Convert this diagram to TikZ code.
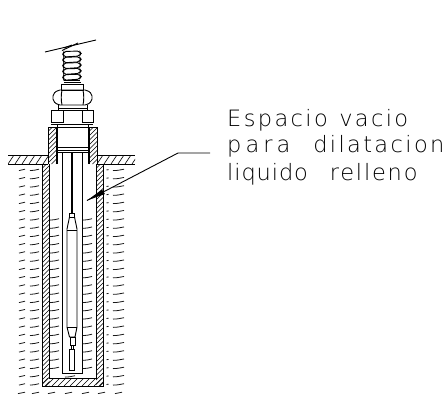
\documentclass[tikz,border=0pt]{standalone}
\usepackage{fontspec}
\newfontfamily\cadN[LetterSpace=10.5]{DejaVu Sans ExtraLight}
\newfontfamily\cadM[LetterSpace=8]{DejaVu Sans ExtraLight}
\newfontfamily\cadT[LetterSpace=4]{DejaVu Sans ExtraLight}
\newfontfamily\cadW[LetterSpace=18]{DejaVu Sans ExtraLight}
\tikzset{x=1pt,y=-1pt,
  ln/.style={line width=0.9pt,black},
  hatchln/.style={line width=0.6pt,black},
  dsh/.style={line width=0.8pt,black!90},
  lbl/.style={anchor=base west,inner sep=0pt}}
\newcommand{\lblsize}{\fontsize{22.5}{24}\selectfont}
\newcommand{\hatchbox}[5]{% x1 y1 x2 y2 spacing
  \begin{scope}
    \clip (#1,#2) rectangle (#3,#4);
    \pgfmathsetmacro{\hstart}{#1-(#4-#2)}
    \pgfmathsetmacro{\hnext}{\hstart+#5}
    \foreach \hx in {\hstart,\hnext,...,#3} {
      \draw[hatchln] (\hx,#4) -- ++(#4-#2,#2-#4);
    }
  \end{scope}}
\newcommand{\groundbox}[2]{% x1 x2
  \begin{scope}
    \clip (#1,155) rectangle (#2,164);
    \pgfmathsetmacro{\hnext}{#1+7}
    \foreach \hx in {#1,\hnext,...,#2} {
      \draw[hatchln] (\hx,164) -- ++(6,-9);
    }
  \end{scope}}
\newcommand{\dashrow}[3]{% x y len
  \draw[dsh] (#1,#2+0.6) .. controls (#1+#3*0.4,#2+0.6) and (#1+#3*0.6,#2) .. (#1+#3,#2-0.8);}
\begin{document}
\begin{tikzpicture}
\useasboundingbox[fill=white] (0,0) rectangle (446,394);
% spring
\foreach \yy in {51,56.8,62.6,68.4,74.2}{
  \draw[ln,rounded corners=2pt] (64,\yy+0.5) -- (62.8,\yy+3) -- (64,\yy+6) -- (79.5,\yy+5) -- (81,\yy+2.5) -- (79.5,\yy) -- cycle;
}
\draw[ln] (64,80.5) -- (80,80.5);
\draw[line width=1.6pt] (64,82.5) -- (81,82.5);
% terminal slanted lines
\draw[ln] (45,52) -- (96,40);
\draw[ln] (62,50.5) -- (78,43);
\draw[ln] (64,48) -- (72,45);
% cap
\draw[ln] (61,84) rectangle (83,90);
% hex nut
\draw[ln,rounded corners=2pt] (58,90) -- (87,90) -- (92,94) -- (92,101) -- (87,105) -- (58,105) -- (53,101) -- (53,94) -- cycle;
\draw[ln] (62,90) .. controls (61,94) and (61,101) .. (62,105);
\draw[ln] (83,90) .. controls (84,94) and (84,101) .. (83,105);
\draw[ln] (58,105) -- (58,110) (87,105) -- (87,110);
\draw[ln] (58,108) -- (87,108);
% squares
\draw[ln] (51,110.5) rectangle (63,122);
\draw[ln] (82,110.5) rectangle (93,122);
\draw[ln] (63,110.5) -- (82,110.5);
\draw[ln] (51,124) -- (93,124);
\draw[ln] (57,124) -- (57,127) (88,124) -- (88,127);
% sleeve
\hatchbox{48}{127}{56}{164}{4.5}
\hatchbox{89}{127}{97}{164}{4.5}
\draw[ln] (48,164) -- (48,127) -- (56,127) -- (56,164);
\draw[ln] (89,164) -- (89,127) -- (97,127) -- (97,164);
\draw[ln] (57.5,127) -- (57.5,164) (88,127) -- (88,164);
\draw[ln] (56,127) -- (89,127);
\draw[ln] (56,147) -- (89,147) (56,150) -- (89,150) (57.5,152.5) -- (88,152.5);
% ground
\groundbox{8}{48}
\groundbox{97}{135}
\draw[ln] (8,155) -- (48,155) (97,155) -- (135,155);
\draw[ln] (8,164) -- (48,164) (97,164) -- (135,164);
% well
\hatchbox{42}{164}{49.5}{386}{4.5}
\hatchbox{96}{164}{103}{386}{4.5}
\hatchbox{42}{378}{103}{386}{6}
\draw[ln] (42,164) -- (42,386) -- (103,386) -- (103,164);
\draw[ln] (49.5,164) -- (49.5,378) -- (96,378) -- (96,164);
% outer tube
\draw[ln] (62,152.5) -- (62,373) -- (82,373) -- (82,152.5);
% rod
\draw[line width=2.2pt] (72,152.5) -- (72,213);
\draw[ln] (69.5,213) rectangle (74.5,217);
\draw[ln] (69.5,217) -- (67,229) -- (67,327) -- (69.5,337) -- (75,337) -- (77,327) -- (77,229) -- (74.5,217);
\draw[ln] (67,230) -- (77,230);
\draw[ln] (67,327) -- (77,327);
\draw[ln] (70,337) rectangle (75,345);
\draw[ln] (71.5,345) rectangle (73,349);
\draw[ln] (69.5,349) rectangle (74.5,370);
% dashes
\foreach \row in {0,...,26}{
  \pgfmathsetmacro{\ry}{170+\row*8.25}
  \dashrow{19}{\ry}{6}
  \dashrow{30}{\ry}{9}
  \draw[dsh] (106.5,\ry) -- (108.5,\ry-0.4);
  \dashrow{113}{\ry}{11}
}
\foreach \row in {6,...,24}{
  \pgfmathsetmacro{\ry}{170+\row*8.25}
  \dashrow{50}{\ry}{9}
  \dashrow{83}{\ry}{9}
}
\dashrow{65}{376.5}{10}
\foreach \xx in {18,32,48,65,82,98,115}{
  \dashrow{\xx}{393}{7}
}
% leader
\coordinate (lstart) at (210,153);
\coordinate (lknee) at (178,153);
\coordinate (ltip) at (87,200.5);
\draw[ln] (lstart) -- (lknee) -- (ltip);
\fill[black] (ltip) -- (102,189.5) -- (105,194) -- cycle;
% text
\node[lbl] (t1) at (227,126) {\cadN\lblsize Espacio \hspace{2pt}vacio};
\node[lbl] (t2) at (227,152) {\lblsize{\cadW para} {\cadN\hspace{16pt}dilatacion}};
\node[lbl] (t3) at (227,180) {\lblsize{\cadT liquido} {\cadM\hspace{15pt}relleno}};
\end{tikzpicture}
\end{document}
